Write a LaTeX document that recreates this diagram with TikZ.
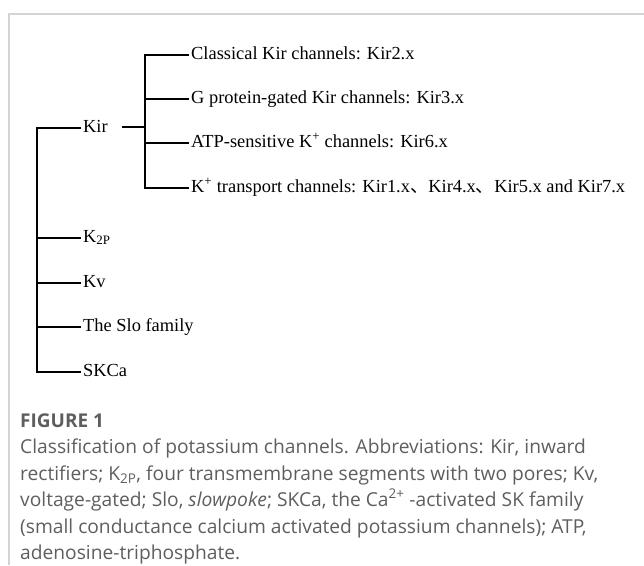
\documentclass[tikz,border=0pt]{standalone}
\usepackage{fontspec}
\setmainfont{Liberation Serif}
\newfontfamily\capfont{Open Sans}
\newfontfamily\cjk{Noto Sans CJK SC}
\definecolor{framegray}{HTML}{D4D4D4}
\definecolor{capgray}{HTML}{5E5E5E}
\begin{document}
\begin{tikzpicture}[x=1pt,y=-1pt,
  lbl/.style={anchor=west,inner sep=2pt,text height=13pt,text depth=4.5pt,font=\fontsize{18.4}{21}\selectfont},
  ln/.style={line width=1.3pt,black},
  frame/.style={line width=1.6pt,framegray},
  capfig/.style={anchor=base west,inner sep=0pt,text=capgray,font=\capfont\bfseries\fontsize{19}{22}\selectfont},
  captxt/.style={anchor=base west,inner sep=0pt,text=capgray,font=\capfont\fontsize{19.2}{22}\selectfont}]
\useasboundingbox (0,0) rectangle (644,565);
\draw[frame] (9,565) -- (9,14) -- (644,14);
% second-level nodes
\node[lbl] (cls) at (189,55) {Classical Kir channels: Kir2.x};
\node[lbl] (gp) at (189,99) {G protein-gated Kir channels: Kir3.x};
\node[lbl] (atp) at (189,143) {ATP-sensitive K\textsuperscript{+} channels: Kir6.x};
\node[lbl] (kt) at (189,188) {K\textsuperscript{+} transport channels: Kir1.x{\cjk 、}Kir4.x{\cjk 、}Kir5.x and Kir7.x};
% first-level nodes
\node[lbl] (kir) at (81,128) {Kir};
\node[lbl] (k2p) at (81,238) {K\textsubscript{2P}};
\node[lbl] (kv) at (81,283) {Kv};
\node[lbl] (slo) at (81,327) {The Slo family};
\node[lbl] (skca) at (81,372) {SKCa};
% trunk
\coordinate (trunkTop) at (37,128);
\coordinate (trunkBot) at (37,372);
\draw[ln] (kir.west) -- (trunkTop) -- (trunkBot) -- (skca.west);
\draw[ln] (k2p.west) -- (k2p.west -| trunkTop);
\draw[ln] (kv.west) -- (kv.west -| trunkTop);
\draw[ln] (slo.west) -- (slo.west -| trunkTop);
% sub-tree
\coordinate (subTop) at (145,55);
\coordinate (subBot) at (145,188);
\coordinate (kirR) at (122,127);
\draw[ln] (cls.west) -- (subTop) -- (subBot) -- (kt.west);
\draw[ln] (gp.west) -- (gp.west -| subTop);
\draw[ln] (atp.west) -- (atp.west -| subTop);
\draw[ln] (kirR) -- (kirR -| subTop);
% caption
\node[capfig] (fig) at (20,427) {FIGURE 1};
\node[captxt] (cap1) at (20,453) {Classification of potassium channels. Abbreviations: Kir, inward};
\node[captxt] (cap2) at (20,480) {rectifiers; K\textsubscript{2P}, four transmembrane segments with two pores; Kv,};
\node[captxt] (cap3) at (20,506) {voltage-gated; Slo, \textit{slowpoke}; SKCa, the Ca\textsuperscript{2+} -activated SK family};
\node[captxt] (cap4) at (20,533) {(small conductance calcium activated potassium channels); ATP,};
\node[captxt] (cap5) at (20,559) {adenosine-triphosphate.};
\end{tikzpicture}
\end{document}
